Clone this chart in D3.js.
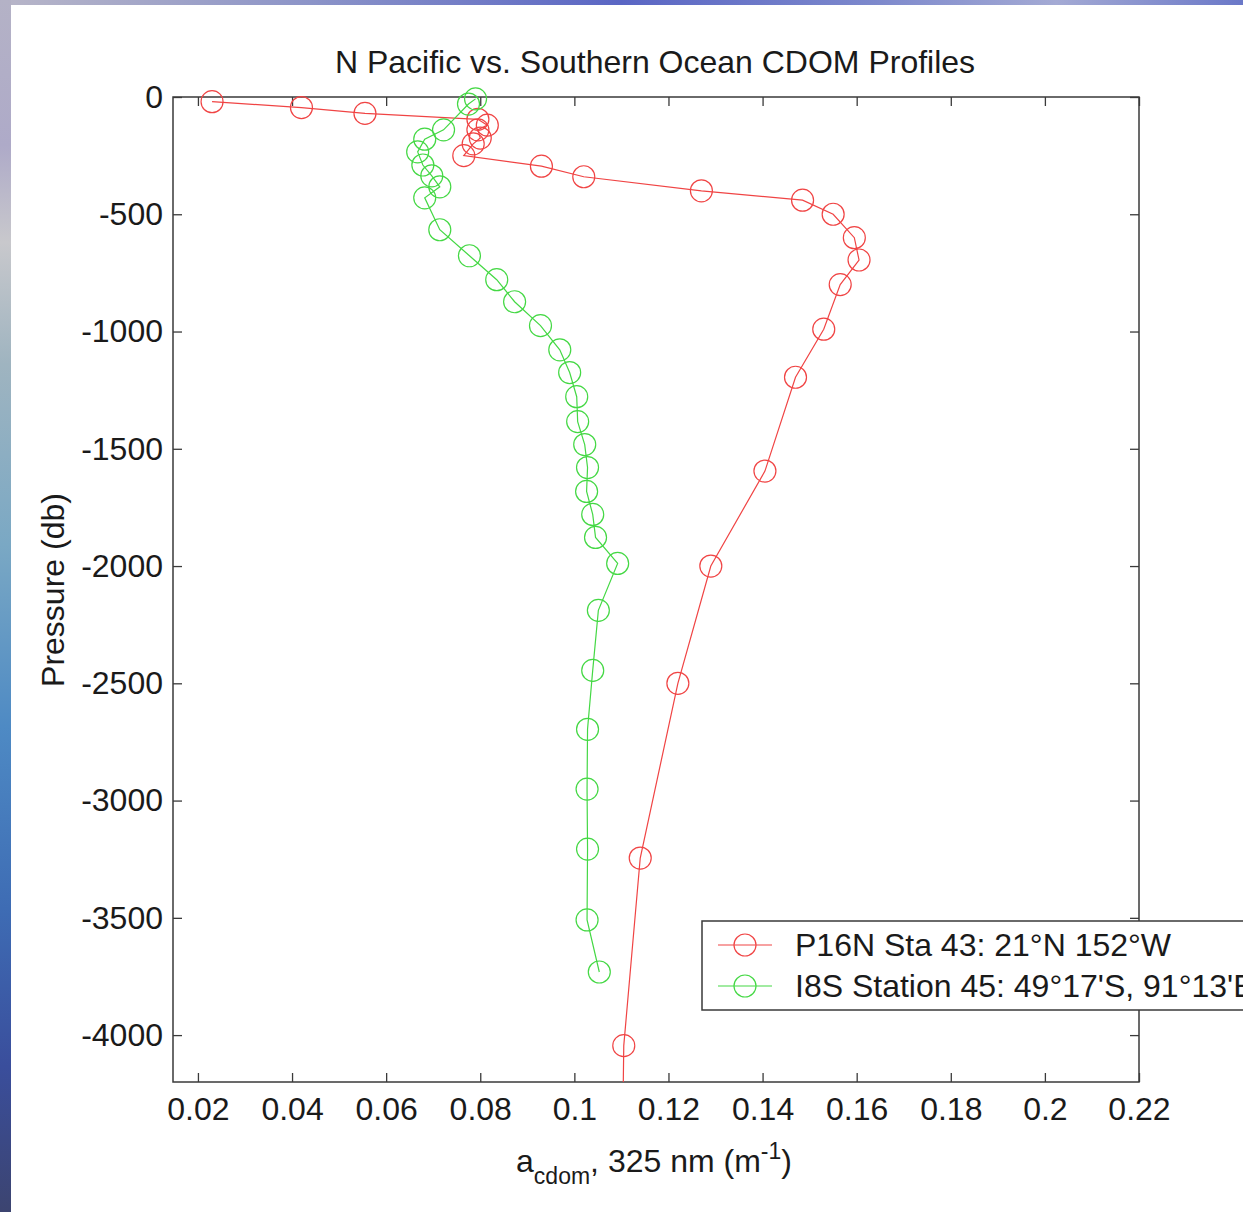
<!DOCTYPE html>
<html>
<head>
<meta charset="utf-8">
<script src="https://cdn.jsdelivr.net/npm/d3@7"></script>
<style>
  html, body { margin: 0; padding: 0; background: #fff; overflow: hidden; }
  svg { display: block; }
  text { font-family: "Liberation Sans", Arial, sans-serif; fill: #1a1a1a; }
</style>
</head>
<body>
<svg id="chart" width="1243" height="1212"></svg>
<script>
// P16N Sta 43 profile: absorption (m^-1) and pressure (db)
const p16nAcdom = [0.023, 0.042, 0.0555, 0.0795, 0.0815, 0.0795, 0.0800, 0.0785, 0.0765,
  0.093, 0.102, 0.127, 0.1485, 0.155, 0.1595, 0.1605, 0.1565, 0.153, 0.147, 0.1405,
  0.129, 0.122, 0.114, 0.1105, 0.1102];
const p16nPressure = [-20, -45, -70, -95, -120, -140, -175, -200, -250,
  -295, -340, -400, -440, -500, -600, -695, -800, -990, -1195, -1595,
  -2000, -2500, -3245, -4045, -4500];

// I8S Station 45 profile
const i8sAcdom = [0.0790, 0.0775, 0.0722, 0.0682, 0.0667, 0.0678, 0.0697, 0.0714, 0.0682,
  0.0714, 0.0777, 0.0835, 0.0873, 0.0928, 0.0969, 0.0990, 0.1005, 0.1007, 0.1022,
  0.1028, 0.1026, 0.1039, 0.1045, 0.1092, 0.1051, 0.1039, 0.1028, 0.1027, 0.1028,
  0.1027, 0.1053];
const i8sPressure = [-8, -30, -140, -180, -234, -290, -336, -383, -430,
  -566, -677, -779, -873, -975, -1078, -1175, -1278, -1384, -1482,
  -1580, -1682, -1780, -1878, -1989, -2189, -2445, -2696, -2951, -3207,
  -3509, -3731];

const xTicks = [0.02, 0.04, 0.06, 0.08, 0.1, 0.12, 0.14, 0.16, 0.18, 0.2, 0.22];
const yTicks = [0, -500, -1000, -1500, -2000, -2500, -3000, -3500, -4000];
const seriesNames = ["P16N Sta 43: 21°N 152°W", "I8S Station 45: 49°17'S, 91°13'E"];
const seriesColors = ["#f04444", "#44d844"];

const svg = d3.select("#chart");
const W = 1243, H = 1212;
const plot = { left: 173, top: 97, right: 1139, bottom: 1082 };

// backdrop: slide-style gradient edges
const defs = svg.append("defs");
const gLeft = defs.append("linearGradient").attr("id", "edgeLeft")
  .attr("x1", 0).attr("y1", 0).attr("x2", 0).attr("y2", 1);
[[0, "#b4b2c6"], [0.12, "#aeaac8"], [0.2, "#c8c8cc"], [0.3, "#9fb4c0"], [0.45, "#7aa8c4"],
 [0.6, "#4e8ac4"], [0.75, "#3e6cb4"], [0.88, "#3a4e9c"], [1, "#3c4470"]]
  .forEach(([o, c]) => gLeft.append("stop").attr("offset", o).attr("stop-color", c));
const gTop = defs.append("linearGradient").attr("id", "edgeTop")
  .attr("x1", 0).attr("y1", 0).attr("x2", 1).attr("y2", 0);
[[0, "#b8b6c8"], [0.25, "#8c94c8"], [0.5, "#5a66c4"], [0.7, "#7c88cc"], [0.85, "#a4aad4"], [1, "#6a78c8"]]
  .forEach(([o, c]) => gTop.append("stop").attr("offset", o).attr("stop-color", c));

svg.append("rect").attr("width", W).attr("height", H).attr("fill", "#ffffff");
svg.append("rect").attr("x", 0).attr("y", 0).attr("width", W).attr("height", 5).attr("fill", "url(#edgeTop)");
svg.append("rect").attr("x", 0).attr("y", 0).attr("width", 11).attr("height", H).attr("fill", "url(#edgeLeft)");

defs.append("clipPath").attr("id", "plotClip").append("rect")
  .attr("x", plot.left).attr("y", plot.top)
  .attr("width", plot.right - plot.left).attr("height", plot.bottom - plot.top);

const x = d3.scaleLinear().domain([0.0147, 0.22]).range([plot.left, plot.right]);
const y = d3.scaleLinear().domain([-4200, 0]).range([plot.bottom, plot.top]);

const axisColor = "#3a3a3a";
const tickLen = 9;
const fontSize = 32;
const markerR = 11;

// axes box with inward ticks on all four sides
const gAxes = svg.append("g");
gAxes.append("rect").attr("x", plot.left).attr("y", plot.top)
  .attr("width", plot.right - plot.left).attr("height", plot.bottom - plot.top)
  .attr("fill", "none").attr("stroke", axisColor).attr("stroke-width", 1.5);

const fmtX = d => d3.format("~g")(d);
const fmtY = d => String(d);
const xb = d3.axisBottom(x).tickValues(xTicks).tickSize(-tickLen).tickPadding(15).tickFormat(fmtX);
const xt = d3.axisTop(x).tickValues(xTicks).tickSize(-tickLen).tickFormat("");
const yl = d3.axisLeft(y).tickValues(yTicks).tickSize(-tickLen).tickPadding(10).tickFormat(fmtY);
const yr = d3.axisRight(y).tickValues(yTicks).tickSize(-tickLen).tickFormat("");

function styleAxis(g) {
  g.select(".domain").remove();
  g.selectAll(".tick line").attr("stroke", axisColor).attr("stroke-width", 1.3);
  g.selectAll(".tick text").attr("font-size", fontSize).attr("fill", "#1a1a1a")
    .attr("font-family", "'Liberation Sans', Arial, sans-serif");
}
gAxes.append("g").attr("transform", `translate(0,${plot.bottom})`).call(xb).call(styleAxis);
gAxes.append("g").attr("transform", `translate(0,${plot.top})`).call(xt).call(styleAxis);
gAxes.append("g").attr("transform", `translate(${plot.left},0)`).call(yl).call(styleAxis);
gAxes.append("g").attr("transform", `translate(${plot.right},0)`).call(yr).call(styleAxis);

// title and axis labels
svg.append("text").attr("x", 655).attr("y", 73).attr("text-anchor", "middle")
  .attr("font-size", fontSize).text("N Pacific vs. Southern Ocean CDOM Profiles");

const xl = svg.append("text").attr("x", 654).attr("y", 1172).attr("text-anchor", "middle")
  .attr("font-size", fontSize);
xl.append("tspan").text("a");
xl.append("tspan").attr("font-size", 23).attr("dy", 12).text("cdom");
xl.append("tspan").attr("dy", -12).text(", 325 nm (m");
xl.append("tspan").attr("font-size", 23).attr("dy", -13).text("-1");
xl.append("tspan").attr("dy", 13).text(")");

svg.append("text").attr("transform", "translate(64,590) rotate(-90)")
  .attr("text-anchor", "middle").attr("font-size", fontSize).text("Pressure (db)");

// profiles
const series = [
  { name: seriesNames[0], color: seriesColors[0], pts: p16nAcdom.map((v, i) => [v, p16nPressure[i]]) },
  { name: seriesNames[1], color: seriesColors[1], pts: i8sAcdom.map((v, i) => [v, i8sPressure[i]]) }
];
const line = d3.line().x(d => x(d[0])).y(d => y(d[1]));
const gData = svg.append("g");
series.forEach(s => {
  gData.append("path").attr("d", line(s.pts)).attr("fill", "none")
    .attr("stroke", s.color).attr("stroke-width", 1.2).attr("clip-path", "url(#plotClip)");
  gData.append("g").selectAll("circle")
    .data(s.pts.filter(d => d[1] >= -4200 && d[1] <= 0))
    .join("circle").attr("cx", d => x(d[0])).attr("cy", d => y(d[1])).attr("r", markerR)
    .attr("fill", "none").attr("stroke", s.color).attr("stroke-width", 1.2);
});

// legend
const lg = svg.append("g").attr("transform", "translate(702,921)");
lg.append("rect").attr("x", 0).attr("y", 0).attr("width", 600).attr("height", 89)
  .attr("fill", "#ffffff").attr("stroke", axisColor).attr("stroke-width", 1.5);
series.forEach((s, i) => {
  const cy = 24 + i * 41;
  lg.append("line").attr("x1", 16).attr("x2", 70).attr("y1", cy).attr("y2", cy)
    .attr("stroke", s.color).attr("stroke-width", 1.2);
  lg.append("circle").attr("cx", 43).attr("cy", cy).attr("r", markerR)
    .attr("fill", "none").attr("stroke", s.color).attr("stroke-width", 1.2);
  lg.append("text").attr("x", 93).attr("y", cy + 11).attr("font-size", fontSize).text(s.name);
});
</script>
</body>
</html>
